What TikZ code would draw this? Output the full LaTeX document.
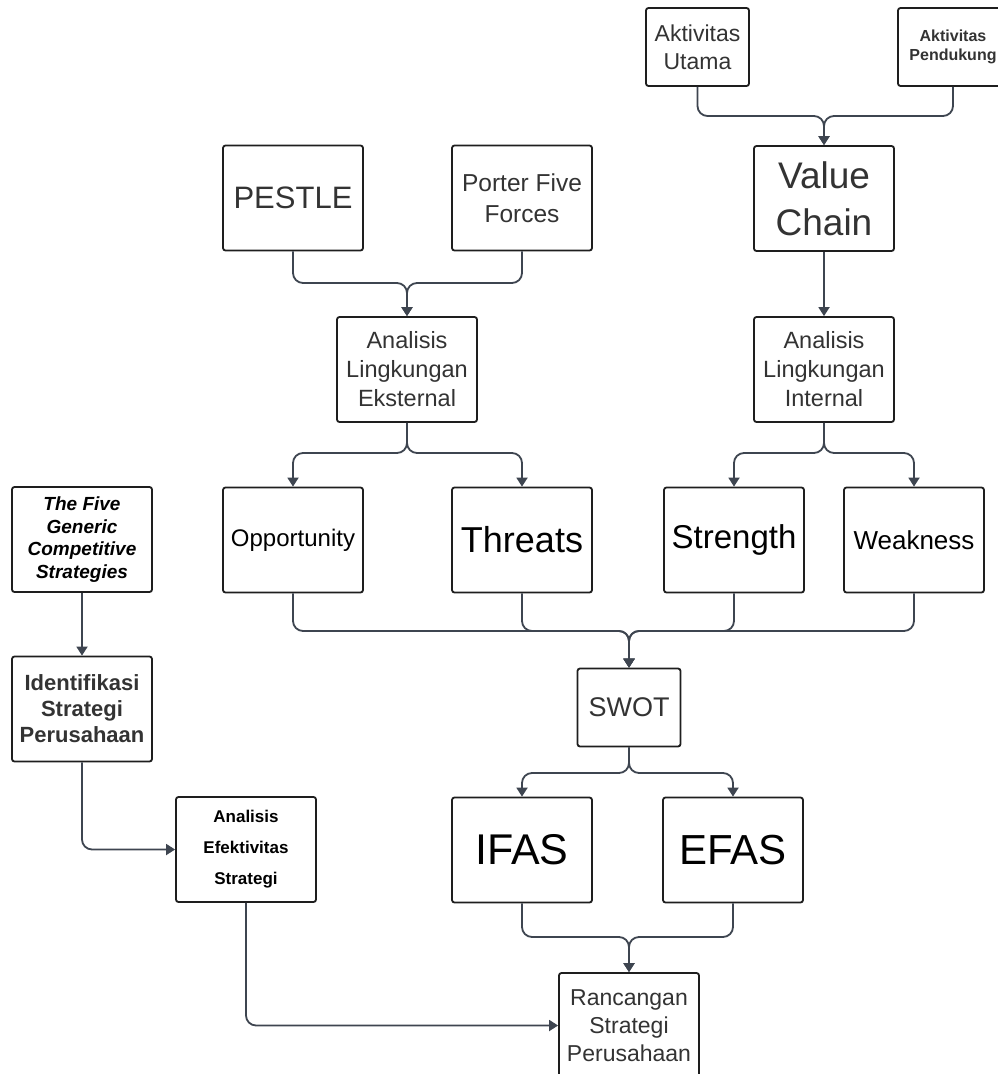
\documentclass[tikz,border=0pt]{standalone}
\usepackage{fontspec}
\setmainfont{Liberation Sans}
\usetikzlibrary{arrows.meta}
\definecolor{boxline}{HTML}{1E1E1E}
\definecolor{linkline}{HTML}{3E4550}
\definecolor{txtgray}{HTML}{333333}
\newcommand\fsz[2]{\fontsize{#1}{#2}\selectfont}

\begin{document}
\begin{tikzpicture}[x=1pt,y=-1pt,
  box/.style={draw=boxline, line width=1.8pt, rounded corners=2.5pt, minimum width=140pt, minimum height=105pt, align=center, inner sep=1pt, text=txtgray},
  smallbox/.style={box, minimum width=103pt, minimum height=78pt},
  dark/.style={text=black},
  link/.style={draw=linkline, line width=1.8pt, rounded corners=10pt, -{Triangle[width=11pt,length=9pt]}}]
\clip (0,0) rectangle (998,1074);

% top: value chain
\node[smallbox, font=\fsz{23}{28}] (utama) at (697.5,47) {Aktivitas\\Utama};
\node[smallbox, minimum width=110pt, font=\fsz{16}{19}\bfseries] (dukung) at (953,47) {Aktivitas\\Pendukung};
\node[box, font=\fsz{37}{47}] (vchain) at (824,198.5) {Value\\Chain};
\node[box, font=\fsz{23.5}{29}] (int) at (824,369.5) {Analisis\\Lingkungan\\Internal};

% external
\node[box, font=\fsz{31}{37}] (pestle) at (293,198) {PESTLE};
\node[box, font=\fsz{24.5}{31}] (porter) at (522,198) {Porter Five\\Forces};
\node[box, font=\fsz{23.5}{29}] (ext) at (407,369.5) {Analisis\\Lingkungan\\Eksternal};

% swot row
\node[box, dark, font=\fsz{24}{29}] (opp) at (293,540) {Opportunity};
\node[box, dark, font=\fsz{36}{42}] (thr) at (522,540) {Threats};
\node[box, dark, font=\fsz{33}{40}] (str) at (734,540) {Strength};
\node[box, dark, font=\fsz{26}{31}] (weak) at (914,540) {Weakness};
\node[smallbox, font=\fsz{27}{32}] (swot) at (629,707.5) {SWOT};
\node[box, dark, font=\fsz{43}{50}] (ifas) at (522,850) {IFAS};
\node[box, dark, font=\fsz{42}{50}] (efas) at (733,850) {EFAS};

% left column
\node[box, dark, font=\fsz{19}{22.5}\bfseries\itshape] (five) at (82,539.5) {The Five\\Generic\\Competitive\\Strategies};
\node[box, font=\fsz{22}{26}\bfseries] (ident) at (82,709) {Identifikasi\\Strategi\\Perusahaan};
\node[box, dark, font=\fsz{17}{31}\bfseries] (efek) at (246,849.5) {Analisis\\Efektivitas\\Strategi};
\node[box, font=\fsz{23}{28}] (ranc) at (629,1025.5) {Rancangan\\Strategi\\Perusahaan};

\coordinate (jVC) at (824,116);
\coordinate (jExt) at (407,283);
\coordinate (jExtD) at (407,453);
\coordinate (jIntD) at (824,453);
\coordinate (jSW) at (629,631);
\coordinate (jSWD) at (629,773);
\coordinate (jRC) at (629,937);

\draw[link] (utama.south) |- (jVC) -- (vchain.north);
\draw[link] (dukung.south) |- (jVC) -- (vchain.north);
\draw[link] (vchain.south) -- (int.north);

\draw[link] (pestle.south) |- (jExt) -- (ext.north);
\draw[link] (porter.south) |- (jExt) -- (ext.north);

\draw[link] (ext.south) -- (jExtD) -| (opp.north);
\draw[link] (ext.south) -- (jExtD) -| (thr.north);
\draw[link] (int.south) -- (jIntD) -| (str.north);
\draw[link] (int.south) -- (jIntD) -| (weak.north);

\draw[link] (opp.south) |- (jSW) -- (swot.north);
\draw[link] (thr.south) |- (jSW) -- (swot.north);
\draw[link] (str.south) |- (jSW) -- (swot.north);
\draw[link] (weak.south) |- (jSW) -- (swot.north);

\draw[link] (swot.south) -- (jSWD) -| (ifas.north);
\draw[link] (swot.south) -- (jSWD) -| (efas.north);
\draw[link] (ifas.south) |- (jRC) -- (ranc.north);
\draw[link] (efas.south) |- (jRC) -- (ranc.north);

\draw[link] (five.south) -- (ident.north);
\draw[link] (ident.south) |- (efek.west);
\draw[link] (efek.south) |- (ranc.west);
\end{tikzpicture}
\end{document}
